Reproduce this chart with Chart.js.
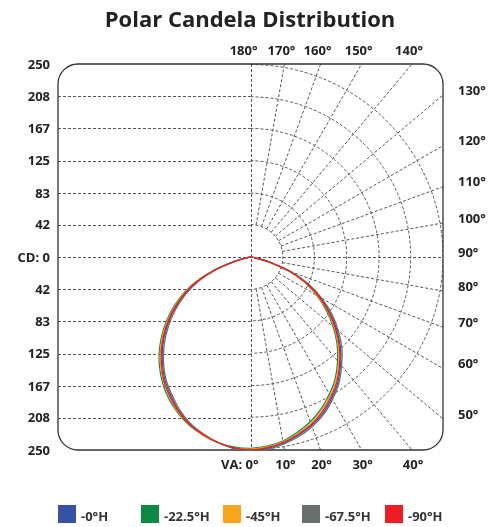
<!DOCTYPE html>
<html>
<head>
<meta charset="utf-8">
<title>Polar Candela Distribution</title>
<script src="https://cdn.jsdelivr.net/npm/chart.js@4.4.1/dist/chart.umd.min.js"></script>
<style>
  body { margin: 0; background: #fff; }
  #wrap { position: relative; width: 500px; height: 527px; }
  #legend { position: absolute; left: 0; top: 505px; width: 500px; height: 18px; font: bold 13px "Open Sans", sans-serif; color: #333; }
  #legend .item { position: absolute; top: 0; height: 18px; white-space: nowrap; }
  #legend .box { position: absolute; left: 0; top: 0; width: 18px; height: 18px; }
  #legend .txt { position: absolute; left: 23px; top: 2px; line-height: 18px; }
</style>
</head>
<body>
<div id="wrap">
  <canvas id="polar" width="500" height="527"></canvas>
  <div id="legend"></div>
</div>
<script>
// vertical angles (deg) at which intensity was read, 0 = straight down
const angles = [0, 5, 10, 15, 20, 25, 30, 35, 40, 45, 50, 55, 60, 65, 70, 75, 80, 85, 90];

const seriesNames = ['-0°H', '-22.5°H', '-45°H', '-67.5°H', '-90°H'];
const seriesColors = ['#3752a3', '#0b8a44', '#f8a51b', '#68716e', '#ee1d24'];

// candela per angle, right half of the plot
const blueRight   = [251, 249, 245, 239, 232, 223, 211, 198, 182, 165, 146, 126, 105, 82, 55, 25, 6, 1, 0];
const greenRight  = [248, 246, 242, 235, 227, 217, 205, 192, 176, 159, 140, 120, 99, 78, 52, 24, 6, 1, 0];
const orangeRight = [249, 247, 243, 237, 229, 219, 207, 194, 178, 161, 142, 122, 101, 79, 53, 24, 6, 1, 0];
const grayRight   = [252, 250, 246, 241, 234, 225, 213, 200, 184, 168, 149, 129, 107, 83, 56, 26, 6, 1, 0];
const redRight    = [250, 248, 244, 238, 231, 221, 209, 196, 180, 163, 144, 124, 103, 80, 54, 25, 6, 1, 0];

// candela per angle, left half (opposite plane)
const blueLeft   = [251, 249, 244, 238, 230, 220, 207, 194, 178, 161, 142, 122, 100, 77, 49, 19, 4, 0, 0];
const greenLeft  = [248, 247, 244, 239, 232, 223, 212, 199, 184, 167, 148, 128, 106, 82, 52, 21, 4, 0, 0];
const orangeLeft = [249, 248, 244, 239, 231, 222, 210, 197, 182, 165, 146, 126, 104, 80, 51, 20, 4, 0, 0];
const grayLeft   = [252, 249, 244, 237, 229, 218, 205, 192, 176, 158, 139, 119, 98, 75, 48, 19, 3, 0, 0];
const redLeft    = [250, 248, 244, 238, 231, 221, 209, 196, 180, 163, 144, 124, 102, 79, 50, 20, 4, 0, 0];

const cdTicks = [250, 208, 167, 125, 83, 42, 0];
const vaTicks = [0, 10, 20, 30, 40, 50, 60, 70, 80, 90, 100, 110, 120, 130, 140, 150, 160, 170, 180];
const maxCd = 250;

const rad = d => d * Math.PI / 180;

// polar -> x/y in candela units, y up, 0 deg pointing down
function loop(left, right) {
  const pts = [];
  for (let i = angles.length - 1; i >= 0; i--) {
    const a = rad(angles[i]);
    pts.push({ x: -left[i] * Math.sin(a), y: -left[i] * Math.cos(a) });
  }
  for (let i = 1; i < angles.length; i++) {
    const a = rad(angles[i]);
    pts.push({ x: right[i] * Math.sin(a), y: -right[i] * Math.cos(a) });
  }
  return pts;
}

const curves = [
  loop(blueLeft, blueRight),
  loop(greenLeft, greenRight),
  loop(orangeLeft, orangeRight),
  loop(grayLeft, grayRight),
  loop(redLeft, redRight)
];
const drawOrder = [4, 3, 2, 1, 0];

const gridPlugin = {
  id: 'polarGrid',
  beforeDatasetsDraw(chart) {
    const { ctx, chartArea: ca, scales: { x, y } } = chart;
    const cx = x.getPixelForValue(0), cy = y.getPixelForValue(0);
    const px = v => x.getPixelForValue(v) - cx;

    ctx.save();
    ctx.beginPath();
    ctx.rect(ca.left, ca.top, ca.right - ca.left, ca.bottom - ca.top);
    ctx.clip();
    ctx.strokeStyle = '#555';
    ctx.lineWidth = 1;
    ctx.setLineDash([3, 2]);

    // horizontal lines, left half
    cdTicks.slice(1, -1).forEach(v => {
      [v, -v].forEach(s => {
        const yy = Math.round(y.getPixelForValue(s)) + 0.5;
        ctx.beginPath();
        ctx.moveTo(x.getPixelForValue(-maxCd), yy);
        ctx.lineTo(cx, yy);
        ctx.stroke();
      });
    });
    // axes through centre
    ctx.beginPath();
    ctx.moveTo(x.getPixelForValue(-maxCd), Math.round(cy) + 0.5);
    ctx.lineTo(x.getPixelForValue(maxCd), Math.round(cy) + 0.5);
    ctx.moveTo(Math.round(cx) + 0.5, y.getPixelForValue(maxCd));
    ctx.lineTo(Math.round(cx) + 0.5, y.getPixelForValue(-maxCd));
    ctx.stroke();

    // arcs, right half
    cdTicks.slice(0, -1).forEach(v => {
      ctx.beginPath();
      ctx.arc(cx, cy, px(v), -Math.PI / 2, Math.PI / 2);
      ctx.stroke();
    });
    // radial lines
    const r0 = cdTicks[cdTicks.length - 2];
    vaTicks.forEach(d => {
      if (d === 0 || d === 90 || d === 180) return;
      const s = Math.sin(rad(d)), c = -Math.cos(rad(d));
      const t = Math.min(maxCd / Math.abs(s), maxCd / Math.abs(c));
      ctx.beginPath();
      ctx.moveTo(x.getPixelForValue(r0 * s), y.getPixelForValue(r0 * c));
      ctx.lineTo(x.getPixelForValue(t * s), y.getPixelForValue(t * c));
      ctx.stroke();
    });
    ctx.restore();

    // rounded frame
    ctx.save();
    ctx.strokeStyle = '#333';
    ctx.lineWidth = 1.3;
    ctx.beginPath();
    ctx.roundRect(ca.left, ca.top, ca.right - ca.left, ca.bottom - ca.top, 20);
    ctx.stroke();
    ctx.restore();
  },
  afterDraw(chart) {
    const { ctx, chartArea: ca, scales: { x, y } } = chart;
    const cx = x.getPixelForValue(0);
    ctx.save();
    ctx.fillStyle = '#222';

    ctx.font = 'bold 22px "Open Sans"';
    ctx.textAlign = 'center';
    ctx.textBaseline = 'alphabetic';
    ctx.fillText('Polar Candela Distribution', 250, 27);

    ctx.font = 'bold 13px "Open Sans"';
    ctx.textBaseline = 'middle';
    ctx.textAlign = 'right';
    cdTicks.forEach(v => {
      const label = v === 0 ? 'CD: 0' : String(v);
      ctx.fillText(label, ca.left - 8, y.getPixelForValue(v) + 1);
      if (v !== 0) ctx.fillText(label, ca.left - 8, y.getPixelForValue(-v) + 1);
    });

    vaTicks.forEach(d => {
      const s = Math.sin(rad(d)), c = -Math.cos(rad(d));
      const t = Math.min(maxCd / Math.abs(s || 1e-9), maxCd / Math.abs(c || 1e-9));
      const hx = x.getPixelForValue(t * s), hy = y.getPixelForValue(t * c);
      const label = d + '°';
      if (d === 0) {
        ctx.textAlign = 'right';
        ctx.fillText('VA: ' + label, cx + 8, ca.bottom + 15);
      } else if (d === 180) {
        ctx.textAlign = 'right';
        ctx.fillText(label, cx + 7, ca.top - 13);
      } else if (d < 45) {
        ctx.textAlign = 'center';
        ctx.fillText(label, hx + 1, ca.bottom + 15);
      } else if (d > 135) {
        ctx.textAlign = 'center';
        ctx.fillText(label, hx - 3, ca.top - 13);
      } else {
        ctx.textAlign = 'left';
        ctx.fillText(label, ca.right + 15, hy - 4);
      }
    });
    ctx.restore();
  }
};

new Chart(document.getElementById('polar'), {
  type: 'scatter',
  data: {
    datasets: curves.map((pts, i) => ({
      label: seriesNames[i],
      data: pts,
      showLine: true,
      borderColor: seriesColors[i],
      backgroundColor: seriesColors[i],
      borderWidth: 1.3,
      pointRadius: 0,
      tension: 0.25,
      fill: false,
      order: drawOrder[i]
    }))
  },
  options: {
    responsive: false,
    animation: false,
    devicePixelRatio: 1,
    layout: { padding: { left: 58, right: 57, top: 64, bottom: 77 } },
    scales: {
      x: { type: 'linear', min: -maxCd, max: maxCd, display: false },
      y: { type: 'linear', min: -maxCd, max: maxCd, display: false }
    },
    plugins: {
      legend: { display: false },
      tooltip: { enabled: false }
    }
  },
  plugins: [gridPlugin]
});

// legend
const legendX = [58, 141, 223, 302, 385];
const legendEl = document.getElementById('legend');
seriesNames.forEach((name, i) => {
  const item = document.createElement('div');
  item.className = 'item';
  item.style.left = legendX[i] + 'px';
  item.innerHTML = '<span class="box" style="background:' + seriesColors[i] + '"></span><span class="txt">' + name + '</span>';
  legendEl.appendChild(item);
});
</script>
</body>
</html>
